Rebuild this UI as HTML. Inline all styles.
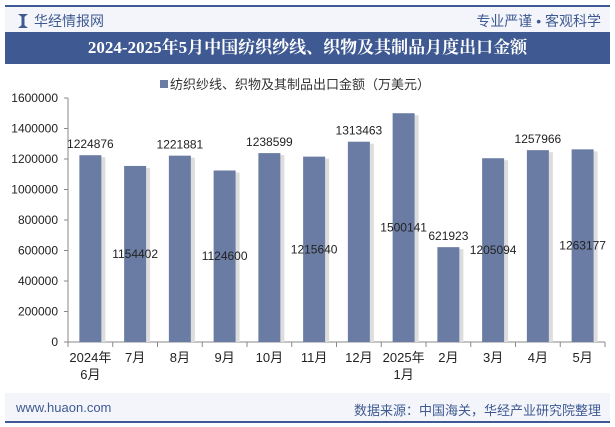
<!DOCTYPE html>
<html><head><meta charset="utf-8"><style>
body{margin:0;width:615px;height:427px;background:#fff;font-family:"Liberation Sans","Noto Sans CJK SC",sans-serif;overflow:hidden;position:relative}
.abs{position:absolute}
</style></head><body>
<div class="abs" style="left:5px;top:5px;width:605px;height:27px;background:#f3f5fa;border-top:2px solid #3f5a92"></div>
<div class="abs" style="left:18px;top:14px;width:10px;height:14px;background:#3f5a92;clip-path:polygon(0 0,35% 20%,35% 80%,0 100%,100% 100%,65% 80%,65% 20%,100% 0)"></div>
<div class="abs" style="left:34px;top:11px;font-size:14px;color:#3f5a92">华经情报网</div>
<div class="abs" style="right:14px;top:11px;font-size:14px;color:#3f5a92">专业严谨 • 客观科学</div>
<div class="abs" style="left:5px;top:32px;width:605px;height:32px;background:#3f5a92;color:#fff;font-weight:bold;font-size:17px;line-height:32px;text-align:center;font-family:'Liberation Serif','Noto Serif CJK SC',serif" >2024-2025年5月中国纺织纱线、织物及其制品月度出口金额</div>
<div class="abs" style="left:5px;top:393px;width:605px;height:28px;background:#f3f5fa;border-bottom:2px solid #3f5a92"></div>
<div class="abs" style="left:16px;top:400px;font-size:13px;color:#3f5a92">www.huaon.com</div>
<div class="abs" style="right:14px;top:400px;font-size:13px;color:#3f5a92">数据来源：中国海关，华经产业研究院整理</div>
<svg class="abs" style="left:0;top:0" width="615" height="427" id="chart"></svg>
<script>
const categories=["2024年|6月","7月","8月","9月","10月","11月","12月","2025年|1月","2月","3月","4月","5月"];
const values=[1224876,1154402,1221881,1124600,1238599,1215640,1313463,1500141,621923,1205094,1257966,1263177];
const labelMode=["top","mid","top","mid","top","mid","top","mid","top","mid","top","mid"];
const yTicks=[0,200000,400000,600000,800000,1000000,1200000,1400000,1600000];
const NS="http://www.w3.org/2000/svg";
const svg=document.getElementById('chart');
const x0=68,x1=605,y0=342,y1=98,ymax=1600000;
const step=(x1-x0)/categories.length;
const Y=v=>y0-(v/ymax)*(y0-y1);
const X=i=>x0+step*(i+0.5);
function mk(t,a,txt){const e=document.createElementNS(NS,t);for(const k in a)e.setAttribute(k,a[k]);if(txt!==undefined)e.textContent=txt;svg.appendChild(e);return e;}
let e=mk('rect',{x:160,y:80,width:8,height:8,fill:'#6a7ca3'});


e=mk('text',{x:170,y:89,'font-size':13,fill:'#333'},'纺织纱线、织物及其制品出口金额（万美元）');


e=mk('line',{x1:x0,y1:y1,x2:x0,y2:y0,stroke:'#888'});


yTicks.forEach(t=>{
 const l=mk('line',{x1:x0-4,y1:Y(t),x2:x0,y2:Y(t),stroke:'#888'});
 
 
 const tx=mk('text',{x:x0-10,y:Y(t)+4,'font-size':12,'text-anchor':'end',fill:'#222'},String(t));
 
 
});
e=mk('line',{x1:x0,y1:y0,x2:x1,y2:y0,stroke:'#888'});


for(let i=0;i<=categories.length;i++){
 const l=mk('line',{x1:x0+step*i,y1:y0,x2:x0+step*i,y2:y0+5,stroke:'#888'});
 
 
}
values.forEach((v,i)=>{
 const bw=22,cx=X(i);
 const sh=mk('rect',{x:cx+bw/2,y:Y(v)+2,width:4,height:y0-Y(v)-2,fill:'#ddd'});
 
 
 const b=mk('rect',{x:cx-bw/2,y:Y(v),width:bw,height:y0-Y(v),fill:'#6a7ca3'});
 
 
 const ly=labelMode[i]==='top'?Y(v)-7:(Y(v)+y0)/2+4;
 const t=mk('text',{x:cx,y:ly,'font-size':12,'text-anchor':'middle',fill:'#222'},String(v));
 
 
 categories[i].split('|').forEach((s,j)=>{
  const c=mk('text',{x:cx,y:y0+20+j*17,'font-size':13,'text-anchor':'middle',fill:'#222'},s);
  
  
 });
});
</script>
</body></html>
